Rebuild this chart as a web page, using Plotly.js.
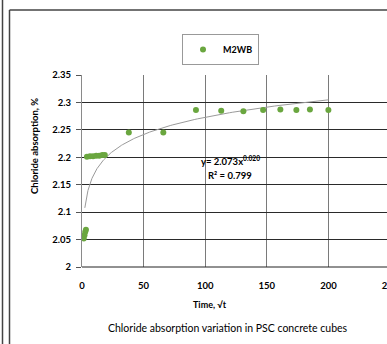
<!DOCTYPE html>
<html>
<head>
<meta charset="utf-8">
<script src="https://cdn.plot.ly/plotly-3.0.1.min.js"></script>
<style>
html,body{margin:0;padding:0;overflow:hidden;background:#fff;}
#chart{width:400px;height:344px;}
</style>
</head>
<body>
<div id="chart"></div>
<script>
// Data (time as sqrt(t), chloride absorption %)
const seriesName = "M2WB";
const timeX = [1.4, 2.0, 2.6, 3.2, 4, 6.5, 9, 11.5, 14, 16.5, 18.5, 38, 66, 92.5, 113, 131, 147, 161, 174, 185, 200];
const absorptionY = [2.052, 2.058, 2.064, 2.068, 2.201, 2.202, 2.202, 2.203, 2.203, 2.204, 2.204, 2.245, 2.245, 2.286, 2.285, 2.284, 2.286, 2.287, 2.286, 2.287, 2.286];
// Power trendline shown on chart: y = 2.073 x^0.020
const trendA = 2.073;
const trendB = 0.020;
const trendStart = 2.3;
const trendEnd = 200;
const xTicks = [0, 50, 100, 150, 200, 250];
const yTicks = [2, 2.05, 2.1, 2.15, 2.2, 2.25, 2.3, 2.35];
const yTickText = ["2", "2.05", "2.1", "2.15", "2.2", "2.25", "2.3", "2.35"];

const trendX = [];
const trendY = [];
for (let i = 0; i <= 200; i++) {
  const x = trendStart * Math.pow(trendEnd / trendStart, i / 200);
  trendX.push(x);
  trendY.push(trendA * Math.pow(x, trendB));
}

// pixel helpers for decorations
const W = 400, H = 344, ML = 82, MR = 10, MT = 75, MB = 77;
const PW = W - ML - MR, PH = H - MT - MB;
const px = v => (v - ML) / PW;
const py = v => (H - MB - v) / PH;

const font = "Lato, 'Open Sans', sans-serif";

const traces = [
  {
    x: trendX, y: trendY, mode: "lines", type: "scatter",
    line: {color: "#9a9a9a", width: 1}, showlegend: false, hoverinfo: "skip"
  },
  {
    x: timeX, y: absorptionY, mode: "markers", type: "scatter", name: seriesName,
    marker: {color: "#6aa63f", size: 6}
  }
];

const layout = {
  width: W, height: H,
  margin: {l: ML, r: MR, t: MT, b: MB, pad: 0},
  paper_bgcolor: "#fff", plot_bgcolor: "#fff",
  font: {family: font, size: 9, color: "#000"},
  showlegend: true,
  legend: {
    x: px(182), y: py(34), xanchor: "left", yanchor: "top",
    bordercolor: "#999", borderwidth: 1, bgcolor: "#fff",
    font: {family: font, size: 9, color: "#000", weight: "bold"},
    itemwidth: 30, tracegroupgap: 0
  },
  xaxis: {
    range: [0, 250], tickvals: xTicks, ticktext: xTicks.map(String),
    showgrid: true, gridcolor: "#7a7a7a", gridwidth: 1,
    zeroline: false, showline: false, ticks: "",
    tickfont: {family: font, size: 9.5, color: "#000", weight: "bold"},
    ticklabelstandoff: 11, fixedrange: true
  },
  yaxis: {
    range: [2, 2.35], tickvals: yTicks, ticktext: yTickText,
    showgrid: true, gridcolor: "#2a2a2a", gridwidth: 1,
    zeroline: false, showline: true, linecolor: "#8a8a8a", linewidth: 1,
    ticks: "outside", ticklen: 5, tickcolor: "#555",
    tickfont: {family: font, size: 9.5, color: "#000", weight: "bold"},
    ticklabelstandoff: 3, fixedrange: true
  },
  annotations: [
    {xref: "paper", yref: "paper", x: px(210), y: py(304), text: "Time, √t", showarrow: false,
     xanchor: "center", yanchor: "middle", font: {family: font, size: 9, weight: "bold"}},
    {xref: "paper", yref: "paper", x: px(228), y: py(328), text: "Chloride absorption variation in PSC concrete cubes",
     showarrow: false, xanchor: "center", yanchor: "middle", font: {family: font, size: 10.5}},
    {xref: "paper", yref: "paper", x: px(34), y: py(146), text: "Chloride absorption, %", textangle: -90,
     showarrow: false, xanchor: "center", yanchor: "middle", font: {family: font, size: 9.5, weight: "bold"}},
    {xref: "paper", yref: "paper", x: px(230), y: py(160), text: "y= 2.073x<sup>0.020</sup>", showarrow: false,
     xanchor: "center", yanchor: "middle", font: {family: font, size: 9.5, weight: "bold"}},
    {xref: "paper", yref: "paper", x: px(230), y: py(175), text: "R² = 0.799", showarrow: false,
     xanchor: "center", yanchor: "middle", font: {family: font, size: 9.5, weight: "bold"}}
  ],
  shapes: [
    {type: "line", xref: "paper", yref: "paper", x0: px(2.5), x1: px(2.5), y0: py(-5), y1: py(350),
     line: {color: "#444", width: 1.5}},
    {type: "line", xref: "paper", yref: "paper", x0: px(9.5), x1: px(9.5), y0: py(10), y1: py(350),
     line: {color: "#444", width: 1.5}},
    {type: "line", xref: "paper", yref: "paper", x0: px(9.5), x1: px(400), y0: py(10), y1: py(10),
     line: {color: "#444", width: 1.5}},
    {type: "line", xref: "paper", yref: "paper", x0: 0, x1: 1, y0: 0, y1: 0,
     line: {color: "#222", width: 1}}
  ]
};

Plotly.newPlot("chart", traces, layout, {displayModeBar: false, staticPlot: true});
</script>
</body>
</html>
